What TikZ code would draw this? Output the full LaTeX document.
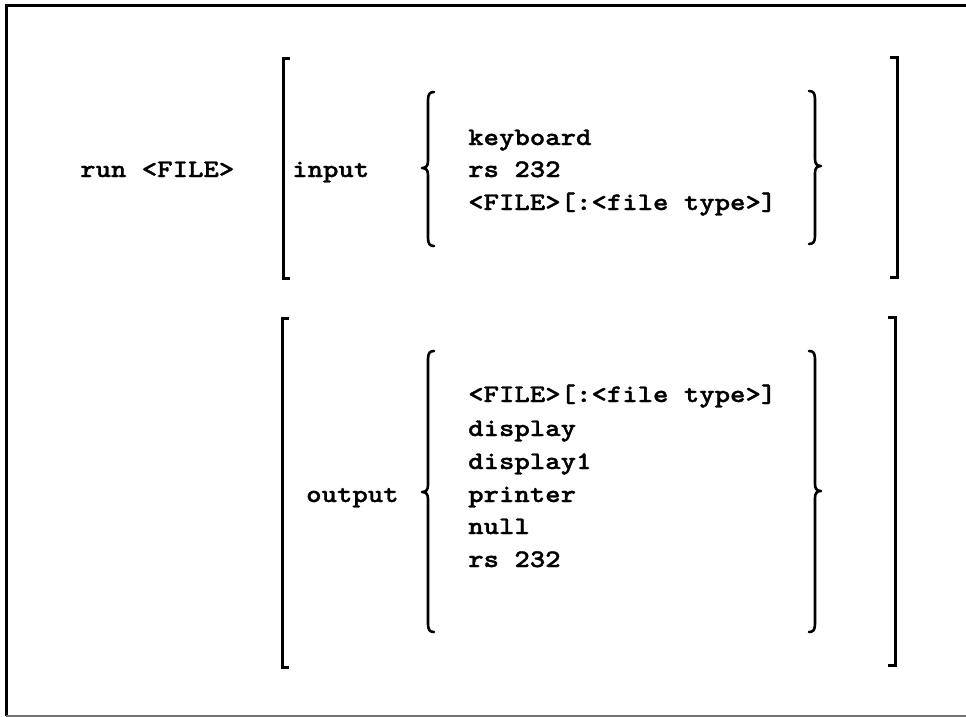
\documentclass[tikz,border=0pt]{standalone}
\usepackage{fontspec}
\newfontfamily\reffont{lmmonolt10-bold.otf}[FakeStretch=1.16,FakeBold=1.2]
\newcommand\myLbrace[4]{% x, ytop, ybot, ymid
  \draw[brc] ({#1+6},#2) .. controls ({#1+2},#2) and (#1,{#2+2}) .. (#1,{#2+8})
    -- (#1,{#4-7}) .. controls (#1,{#4-2}) and ({#1-2},#4) .. ({#1-6},#4)
    .. controls ({#1-2},#4) and (#1,{#4+2}) .. (#1,{#4+7})
    -- (#1,{#3-8}) .. controls (#1,{#3-2}) and ({#1+2},#3) .. ({#1+6},#3);}
\newcommand\myRbrace[4]{% x, ytop, ybot, ymid
  \draw[brc] ({#1-6},#2) .. controls ({#1-2},#2) and (#1,{#2+2}) .. (#1,{#2+8})
    -- (#1,{#4-7}) .. controls (#1,{#4-2}) and ({#1+2},#4) .. ({#1+6},#4)
    .. controls ({#1+2},#4) and (#1,{#4+2}) .. (#1,{#4+7})
    -- (#1,{#3-8}) .. controls (#1,{#3-2}) and ({#1-2},#3) .. ({#1-6},#3);}
\begin{document}
\begin{tikzpicture}[x=1pt,y=-1pt,
  txt/.style={anchor=base west,inner sep=0pt,font=\reffont\fontsize{25.3}{30}\selectfont},
  brk/.style={line width=3pt,line cap=butt,line join=miter},
  brc/.style={line width=2.6pt,line cap=round,line join=round},
  frame/.style={line width=3pt,black}]
\useasboundingbox (0,0) rectangle (966,717);
% frame (no right side visible)
\draw[frame] (966,6) -- (6,6) -- (6,716);
\draw[line width=2pt,black!55] (6,716) -- (966,716);

% left column
\node[txt] (run) at (80,177) {run <FILE>};

% input block
\draw[brk] (290,59) -- (283,59) -- (283,278) -- (290,278);
\draw[brk] (890,58) -- (897,58) -- (897,277) -- (890,277);
\node[txt] (input) at (292,177) {input};
\myLbrace{428}{92}{246}{168}
\myRbrace{815}{91}{244}{166}
\node[txt] (i1) at (468,145) {keyboard};
\node[txt] (i2) at (468,177) {rs 232};
\node[txt] (i3) at (468,210) {<FILE>[:<file type>]};

% output block
\draw[brk] (289,318) -- (282,318) -- (282,667) -- (289,667);
\draw[brk] (888,317) -- (895,317) -- (895,665) -- (888,665);
\node[txt] (output) at (306,502) {output};
\myLbrace{428}{351}{632}{492}
\myRbrace{815}{351}{632}{491}
\node[txt] (o1) at (468,402) {<FILE>[:<file type>]};
\node[txt] (o2) at (468,436) {display};
\node[txt] (o3) at (468,469) {display1};
\node[txt] (o4) at (468,502) {printer};
\node[txt] (o5) at (468,534) {null};
\node[txt] (o6) at (468,567) {rs 232};
\end{tikzpicture}
\end{document}
